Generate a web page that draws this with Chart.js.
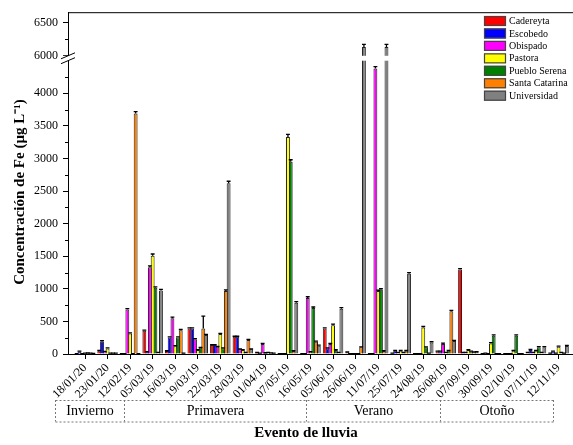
<!DOCTYPE html>
<html>
<head>
<meta charset="utf-8">
<script src="https://cdn.jsdelivr.net/npm/chart.js@4.4.1/dist/chart.umd.min.js"></script>
<style>
  html, body { margin: 0; padding: 0; background: #fff; }
  #wrap { width: 573px; height: 445px; position: relative; }
</style>
</head>
<body>
<div id="wrap"><canvas id="chart"></canvas></div>
<script>
var eventos = ["18/01/20", "23/01/20", "12/02/19", "05/03/19", "16/03/19", "19/03/19", "22/03/19",
    "28/03/19", "01/04/19", "07/05/19", "16/05/19", "05/06/19", "26/06/19", "11/07/19", "25/07/19",
    "24/08/19", "26/08/19", "07/09/19", "30/09/19", "02/10/19", "07/11/19", "12/11/19"];

var sitios = ["Cadereyta", "Escobedo", "Obispado", "Pastora", "Pueblo Serena", "Santa Catarina", "Universidad"];
var colores = ["#ff0000", "#0000ff", "#ff00ff", "#ffff00", "#008000", "#ff8000", "#808080"];

// Fe (ug/L) per site, one value per event
var cadereyta     = [5, 50, 5, 355, 45, 391, 137, 264, 20, 5, 5, 391, 30, 5, 10, 5, 40, 1296, 5, 5, 20, 10];
var escobedo      = [40, 188, 5, 30, 254, 391, 137, 264, 10, 5, 5, 87, 5, 5, 50, 5, 40, 20, 10, 5, 61, 40];
var obispado      = [5, 35, 681, 1331, 550, 224, 110, 71, 152, 5, 858, 152, 5, 4380, 20, 5, 152, 20, 5, 5, 20, 10];
var pastora       = [10, 86, 315, 1509, 120, 61, 305, 61, 15, 3330, 30, 442, 5, 965, 50, 407, 20, 61, 163, 50, 50, 112];
var puebloSerena  = [12, 10, 5, 1016, 254, 95, 87, 20, 20, 2950, 706, 61, 5, 986, 20, 102, 50, 40, 279, 279, 102, 20];
var santaCatarina = [10, 10, 3690, 20, 366, 391, 965, 213, 15, 46, 188, 20, 102, 46, 50, 10, 655, 30, 5, 5, 20, 10];
var universidad   = [8, 10, 5, 975, 10, 290, 2620, 71, 10, 788, 127, 696, 6130, 6130, 1230, 178, 200, 30, 5, 5, 102, 122];

// standard deviations (drawn upward only)
var errCadereyta     = [2, 5, 2, 10, 5, 10, 8, 8, 3, 2, 2, 10, 4, 2, 3, 2, 5, 15, 2, 2, 4, 3];
var errEscobedo      = [5, 15, 2, 5, 10, 10, 8, 8, 3, 2, 2, 8, 2, 2, 5, 2, 5, 4, 3, 2, 8, 5];
var errObispado      = [2, 5, 15, 20, 15, 10, 8, 6, 10, 2, 20, 10, 2, 30, 4, 2, 15, 4, 2, 2, 4, 3];
var errPastora       = [3, 8, 10, 25, 8, 6, 10, 6, 4, 40, 5, 15, 2, 15, 5, 15, 4, 6, 10, 6, 6, 10];
var errPuebloSerena  = [3, 3, 2, 15, 10, 8, 6, 4, 4, 30, 15, 6, 2, 15, 4, 8, 5, 5, 15, 15, 10, 4];
var errSantaCatarina = [3, 3, 30, 4, 10, 190, 20, 10, 3, 5, 10, 4, 8, 5, 5, 3, 15, 4, 2, 2, 4, 3];
var errUniversidad   = [2, 3, 2, 15, 3, 10, 30, 6, 3, 15, 8, 15, 40, 40, 20, 10, 10, 5, 2, 2, 10, 10];

var yTicks = [0, 500, 1000, 1500, 2000, 2500, 3000, 3500, 4000, 6000, 6500];
var yMinorTicks = [250, 750, 1250, 1750, 2250, 2750, 3250, 3750, 4250, 6250];

var estaciones = ["Invierno", "Primavera", "Verano", "Otoño"];
var limitesEstaciones = [-1.33, 1.73, 9.78, 15.74, 20.75];

var series = [cadereyta, escobedo, obispado, pastora, puebloSerena, santaCatarina, universidad];
var errores = [errCadereyta, errEscobedo, errObispado, errPastora, errPuebloSerena, errSantaCatarina, errUniversidad];

// broken axis: everything above the break is shifted down
var BREAK_LOW = 4500;
var BREAK_SHIFT = 1420;
var BREAK_GAP = 75;
function toAxis(v) { return v <= BREAK_LOW ? v : v - BREAK_SHIFT; }
function fromAxis(t) { return t <= BREAK_LOW ? t : t + BREAK_SHIFT; }

var FONT = "'Liberation Serif', 'Times New Roman', serif";

var datasets = series.map(function (s, i) {
    return {
        label: sitios[i],
        data: s.map(function (v, j) { return { x: j, y: toAxis(v) }; }),
        backgroundColor: colores[i],
        borderColor: "#222",
        borderWidth: 1,
        categoryPercentage: 0.86,
        barPercentage: 1.4
    };
});

var decoraciones = {
    id: "decoraciones",
    afterDatasetsDraw: function (chart) {
        var ctx = chart.ctx, area = chart.chartArea;
        var ys = chart.scales.y;
        ctx.save();

        // error bars
        ctx.strokeStyle = "#000";
        ctx.lineWidth = 1.3;
        chart.data.datasets.forEach(function (ds, i) {
            chart.getDatasetMeta(i).data.forEach(function (bar, j) {
                var top = ys.getPixelForValue(toAxis(series[i][j] + errores[i][j]));
                var hw = bar.width / 2;
                ctx.beginPath();
                ctx.moveTo(bar.x, bar.y);
                ctx.lineTo(bar.x, top);
                ctx.moveTo(bar.x - hw, top);
                ctx.lineTo(bar.x + hw, top);
                ctx.stroke();
            });
        });

        // break gap
        var yLow = ys.getPixelForValue(BREAK_LOW);
        var yHigh = ys.getPixelForValue(BREAK_LOW + BREAK_GAP);
        ctx.fillStyle = "#fff";
        ctx.fillRect(area.left - 8, yHigh, area.right - area.left + 8, yLow - yHigh);
        ctx.strokeStyle = "#000";
        ctx.lineWidth = 1;
        ctx.beginPath();
        [yLow, yHigh].forEach(function (y) {
            ctx.moveTo(area.left - 7, y + 3);
            ctx.lineTo(area.left + 7, y - 3);
        });
        ctx.stroke();

        // minor ticks on y
        ctx.beginPath();
        yMinorTicks.forEach(function (v) {
            var y = Math.round(ys.getPixelForValue(toAxis(v))) + 0.5;
            ctx.moveTo(area.left - 3, y);
            ctx.lineTo(area.left, y);
        });
        ctx.stroke();

        // top frame
        ctx.beginPath();
        ctx.moveTo(area.left, area.top + 0.5);
        ctx.lineTo(area.right, area.top + 0.5);
        ctx.stroke();
        ctx.restore();
    },
    afterDraw: function (chart) {
        var ctx = chart.ctx, area = chart.chartArea;
        var xs = chart.scales.x;
        ctx.save();

        // legend
        ctx.font = "10px " + FONT;
        ctx.textBaseline = "middle";
        ctx.textAlign = "left";
        sitios.forEach(function (n, i) {
            var y = 16 + i * 12.45;
            ctx.fillStyle = colores[i];
            ctx.fillRect(484, y, 22, 10);
            ctx.strokeStyle = "#444";
            ctx.lineWidth = 1.2;
            ctx.strokeRect(484.5, y + 0.5, 21, 9);
            ctx.fillStyle = "#000";
            ctx.fillText(n, 509, y + 5.5);
        });

        // season boxes
        var top = area.bottom + 46, bottom = area.bottom + 67.5;
        var px = limitesEstaciones.map(function (v) { return Math.round(xs.getPixelForValue(v)) + 0.5; });
        ctx.setLineDash([2, 2]);
        ctx.strokeStyle = "#777";
        ctx.lineWidth = 1;
        ctx.beginPath();
        ctx.moveTo(px[0], top + 0.5); ctx.lineTo(px[px.length - 1], top + 0.5);
        ctx.moveTo(px[0], bottom + 0.5); ctx.lineTo(px[px.length - 1], bottom + 0.5);
        px.forEach(function (x) { ctx.moveTo(x, top); ctx.lineTo(x, bottom); });
        ctx.stroke();
        ctx.setLineDash([]);
        ctx.fillStyle = "#000";
        ctx.font = "14px " + FONT;
        ctx.textAlign = "center";
        estaciones.forEach(function (n, i) {
            ctx.fillText(n, (px[i] + px[i + 1]) / 2, (top + bottom) / 2 + 1);
        });

        // axis titles
        ctx.font = "bold 15px " + FONT;
        ctx.fillText("Evento de lluvia", 306, 433);
        ctx.translate(20, 192);
        ctx.rotate(-Math.PI / 2);
        ctx.fillText("Concentración de Fe (µg L\u207B\u00B9)", 0, 0);
        ctx.restore();
    }
};

new Chart(document.getElementById("chart"), {
    type: "bar",
    data: { datasets: datasets },
    options: {
        responsive: true,
        maintainAspectRatio: false,
        animation: false,
        layout: { padding: { top: 10, right: 0, left: 0, bottom: 0 } },
        plugins: { legend: { display: false }, tooltip: { enabled: false } },
        scales: {
            x: {
                type: "linear",
                min: -0.754,
                max: 21.64,
                offset: false,
                afterBuildTicks: function (s) {
                    s.ticks = eventos.map(function (e, i) { return { value: i }; });
                },
                afterFit: function (s) { s.height = 91; },
                ticks: {
                    callback: function (v) { return eventos[v]; },
                    autoSkip: false,
                    minRotation: 45,
                    maxRotation: 45,
                    padding: 2,
                    color: "#000",
                    font: { family: FONT, size: 12 }
                },
                grid: { drawOnChartArea: false, offset: false, tickLength: 5, color: "#000" },
                border: { color: "#000", width: 1 }
            },
            y: {
                min: 0,
                max: 5244,
                afterBuildTicks: function (s) {
                    s.ticks = yTicks.map(function (v) { return { value: toAxis(v) }; });
                },
                afterFit: function (s) { s.width = 68; },
                ticks: {
                    callback: function (v) { return String(fromAxis(v)); },
                    padding: 5,
                    color: "#000",
                    font: { family: FONT, size: 12 }
                },
                grid: { drawOnChartArea: false, tickLength: 5, color: "#000" },
                border: { color: "#000", width: 1 }
            }
        }
    },
    plugins: [decoraciones]
});
</script>
</body>
</html>
